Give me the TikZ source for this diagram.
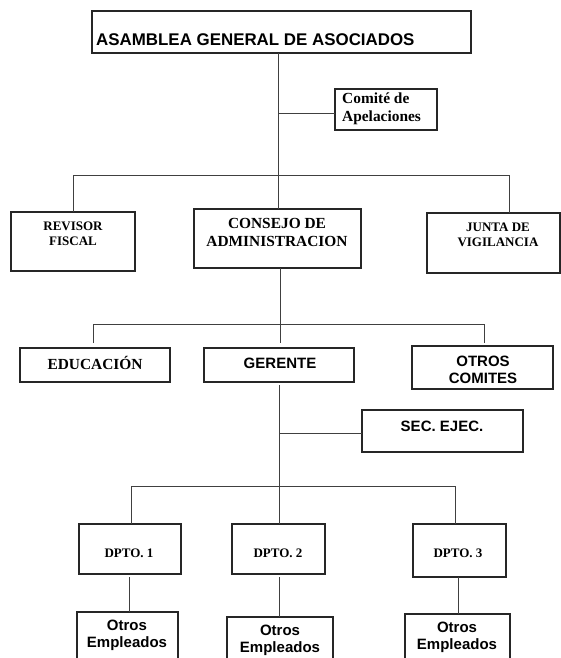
\documentclass[tikz,border=0pt]{standalone}
\usepackage{fontspec}
\setmainfont{Liberation Serif}
\newfontfamily\sansf{Liberation Sans}
\begin{document}
\begin{tikzpicture}[x=1pt,y=-1pt,
  box/.style={draw=black!85,line width=1.2pt,fill=none,inner sep=0pt,outer sep=0pt},
  conn/.style={draw=black!75,line width=1pt},
  txt/.style={inner sep=0pt,align=center,text=black},
  serifL/.style={font=\bfseries\fontsize{15.4}{18}\selectfont},
  serifS/.style={font=\bfseries\fontsize{13}{15}\selectfont},
  sansB/.style={font=\sansf\bfseries\fontsize{15}{17}\selectfont}]
\useasboundingbox (0,0) rectangle (561,658);
\clip (0,0) rectangle (561,658);
% boxes
\node[box,minimum width=379pt,minimum height=42pt] (top) at (281.5,32) {};
\node[box,minimum width=102pt,minimum height=41pt] (comite) at (386,109.5) {};
\node[box,minimum width=124pt,minimum height=59pt] (revisor) at (73,241.5) {};
\node[box,minimum width=167pt,minimum height=59pt] (consejo) at (277.5,238.5) {};
\node[box,minimum width=133pt,minimum height=60pt] (junta) at (493.5,243) {};
\node[box,minimum width=150pt,minimum height=34pt] (educ) at (95,365) {};
\node[box,minimum width=150pt,minimum height=34pt] (gerente) at (279,365) {};
\node[box,minimum width=141pt,minimum height=43pt] (otros) at (482.5,367.5) {};
\node[box,minimum width=161pt,minimum height=42pt] (sec) at (442.5,431) {};
\node[box,minimum width=102pt,minimum height=50pt] (d1) at (130,549) {};
\node[box,minimum width=93pt,minimum height=50pt] (d2) at (278.5,549) {};
\node[box,minimum width=93pt,minimum height=53pt] (d3) at (459.5,550.5) {};
\node[box,minimum width=101pt,minimum height=60pt] (e1) at (127.5,642) {};
\node[box,minimum width=106pt,minimum height=60pt] (e2) at (280,647) {};
\node[box,minimum width=105pt,minimum height=60pt] (e3) at (457.5,644) {};
% texts
\node[txt,anchor=west,font=\sansf\bfseries\fontsize{16.9}{20}\selectfont] (ttop) at (96,40) {ASAMBLEA GENERAL DE ASOCIADOS};
\node[txt,serifL,anchor=west,align=left] (tcom) at (342,108.5) {Comité de\\Apelaciones};
\node[txt,serifS] (trev) at (73,233.5) {REVISOR\\FISCAL};
\node[txt,serifL] (tcon) at (277,232) {CONSEJO DE\\ADMINISTRACION};
\node[txt,serifS] (tjun) at (498,234.5) {JUNTA DE\\VIGILANCIA};
\node[txt,serifL] (tedu) at (95,363) {EDUCACIÓN};
\node[txt,sansB] (tger) at (280,363) {GERENTE};
\node[txt,sansB] (toc) at (483,369.5) {OTROS\\COMITES};
\node[txt,sansB] (tsec) at (442,426) {SEC. EJEC.};
\node[txt,serifS] (td1) at (129,553) {DPTO. 1};
\node[txt,serifS] (td2) at (278,553) {DPTO. 2};
\node[txt,serifS] (td3) at (458,553) {DPTO. 3};
\node[txt,sansB] (te1) at (127,635.5) {Otros\\Empleados};
\node[txt,sansB] (te2) at (280,640) {Otros\\Empleados};
\node[txt,sansB] (te3) at (457,637) {Otros\\Empleados};
% junction coordinates
\coordinate (j1) at (278,175);
\coordinate (j1c) at (278,114);
\coordinate (h1l) at (73,175);
\coordinate (h1r) at (509,175);
\coordinate (j2) at (280,324);
\coordinate (h2l) at (93,324);
\coordinate (h2r) at (484,324);
\coordinate (s2l) at (93,343);
\coordinate (s2m) at (280,343);
\coordinate (s2r) at (484,343);
\coordinate (g0) at (279,385);
\coordinate (j3s) at (279,433);
\coordinate (j3) at (279,486);
\coordinate (h3l) at (131,486);
\coordinate (h3r) at (455,486);
\coordinate (v1) at (129,577);
\coordinate (v2) at (279,577);
\coordinate (v3) at (458,577);
% connectors level 1
\draw[conn] (top.south -| j1) -- (j1);
\draw[conn] (j1c) -- (comite.west |- j1c);
\draw[conn] (revisor.north) -- (h1l) -- (h1r) -- (junta.north -| h1r);
\draw[conn] (j1) -- (consejo.north -| j1);
% level 2
\draw[conn] (consejo.south -| j2) -- (j2);
\draw[conn] (s2l) -- (h2l) -- (h2r) -- (s2r);
\draw[conn] (j2) -- (s2m);
% level 3
\draw[conn] (g0) -- (j3);
\draw[conn] (j3s) -- (sec.west |- j3s);
\draw[conn] (d1.north -| h3l) -- (h3l) -- (h3r) -- (d3.north -| h3r);
\draw[conn] (j3) -- (d2.north -| j3);
% level 4
\draw[conn] (v1) -- (e1.north -| v1);
\draw[conn] (v2) -- (e2.north -| v2);
\draw[conn] (v3) -- (e3.north -| v3);
\end{tikzpicture}
\end{document}
